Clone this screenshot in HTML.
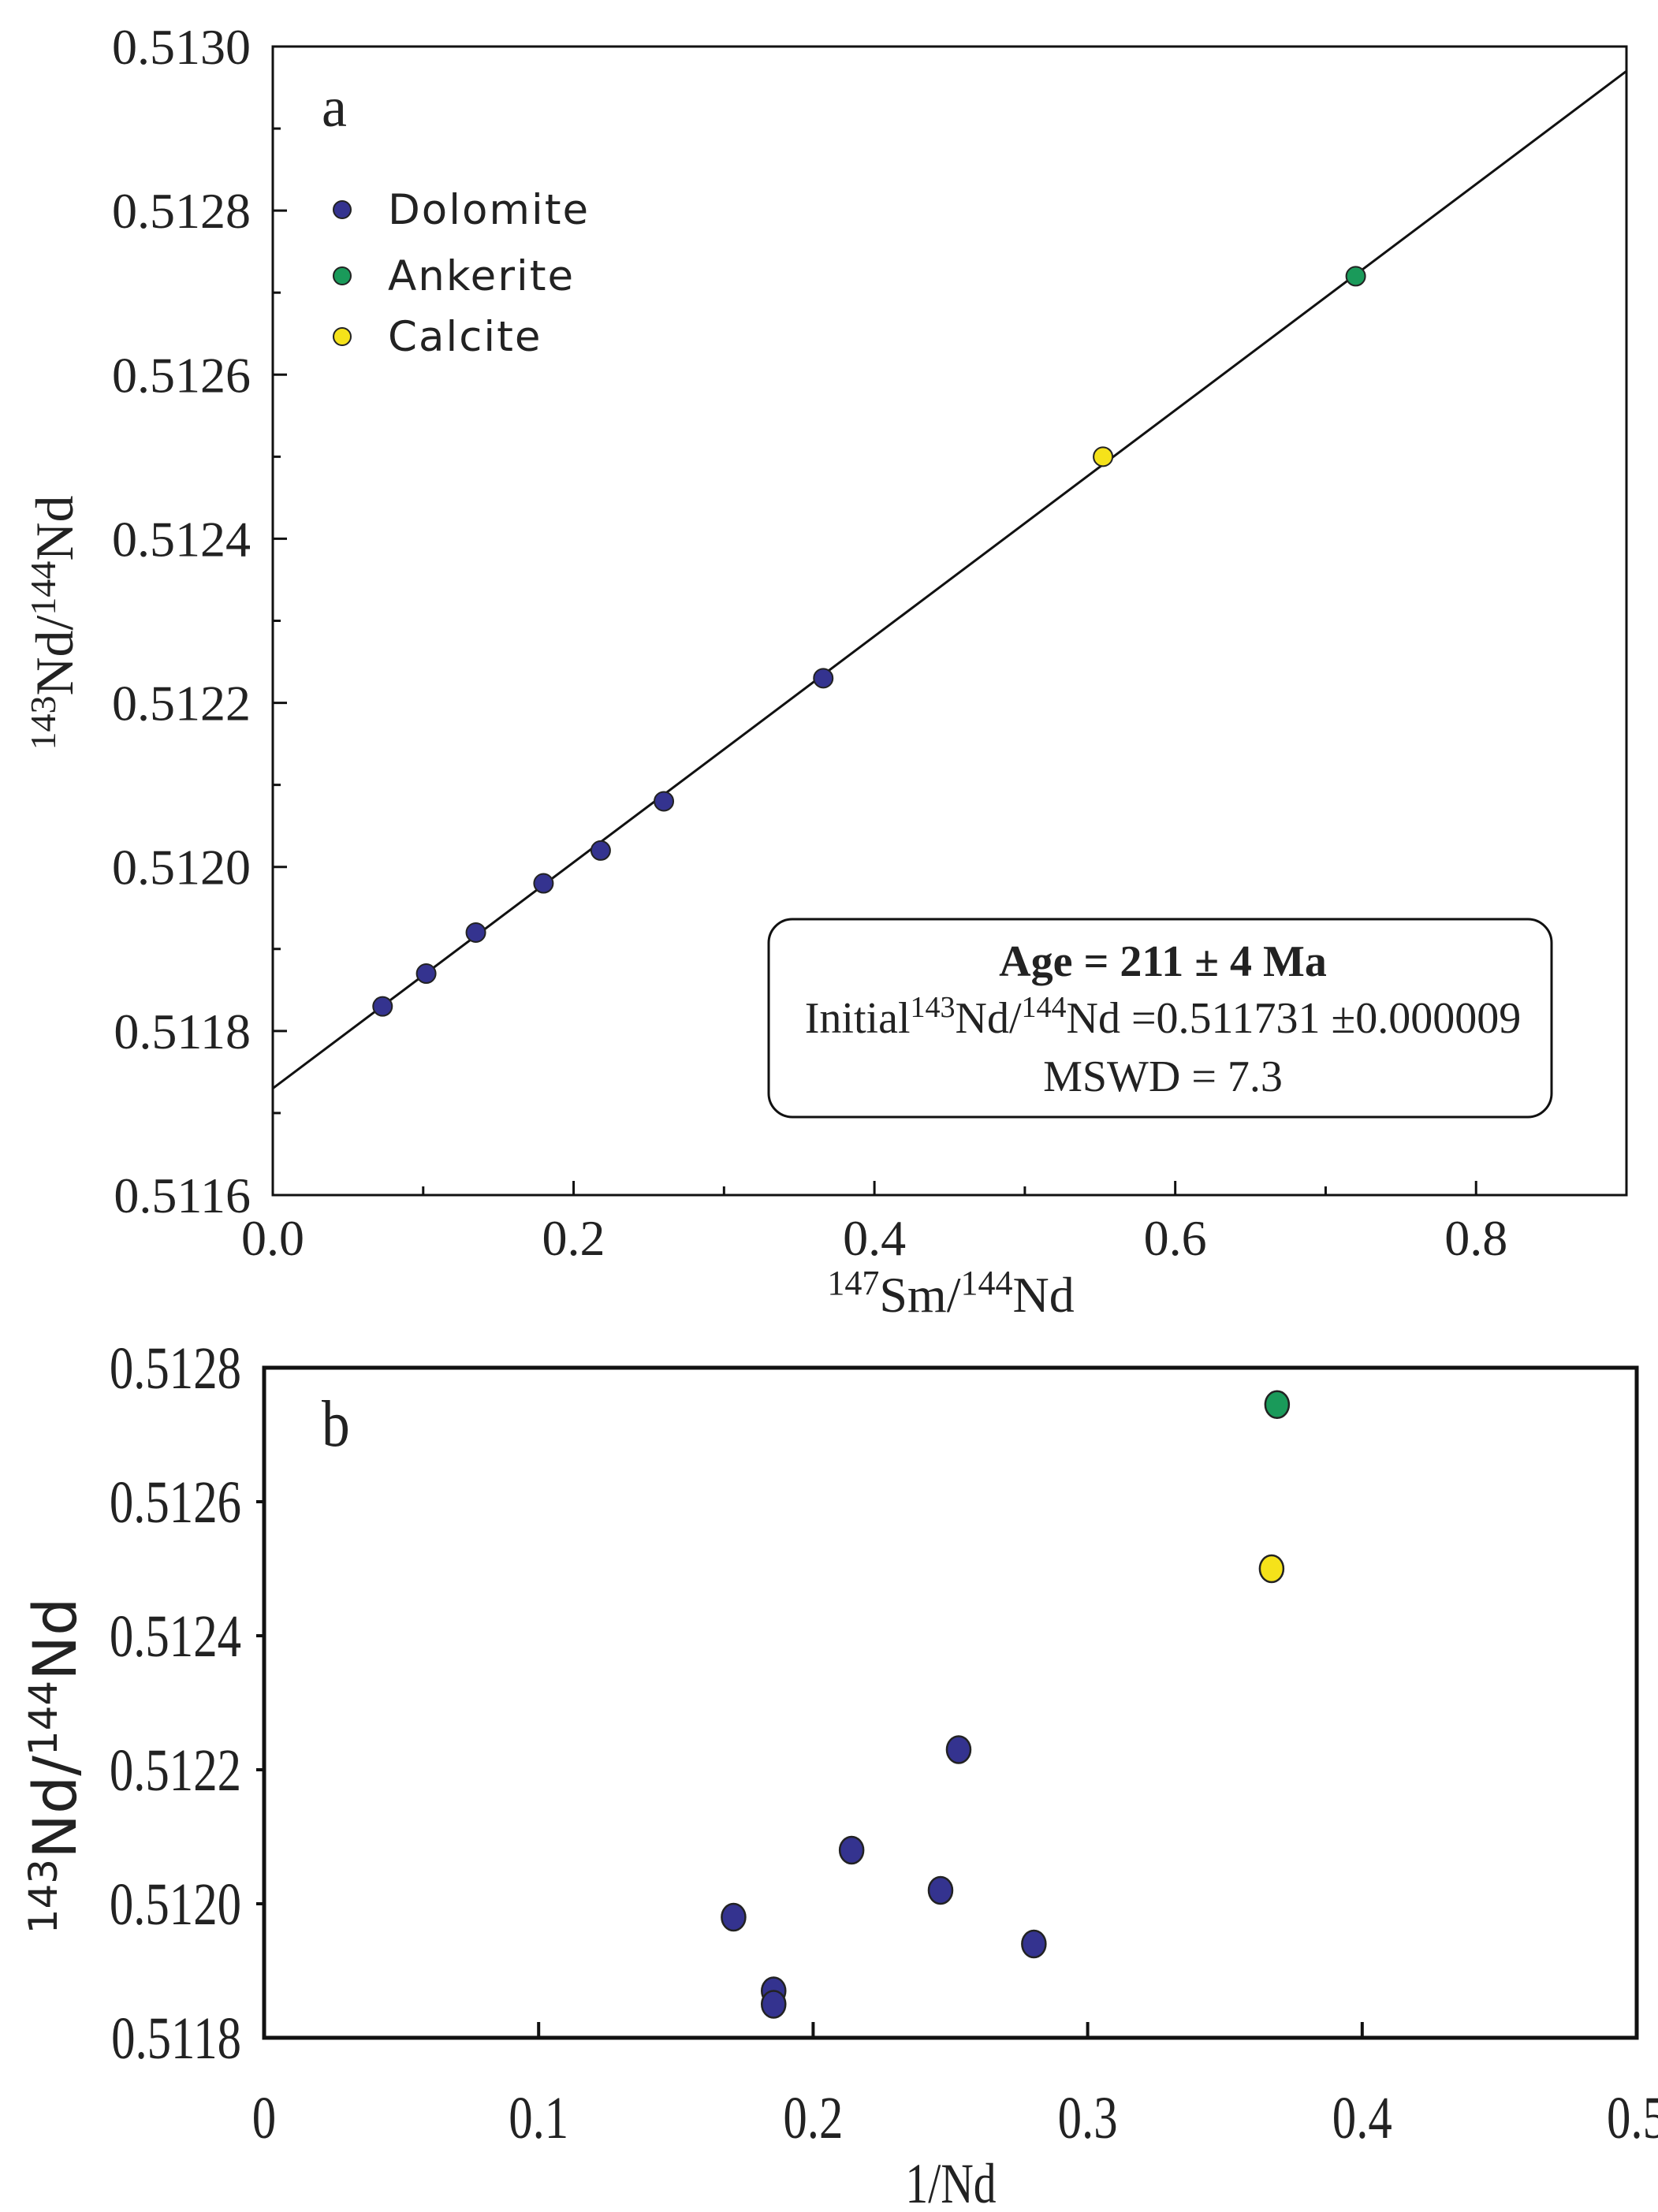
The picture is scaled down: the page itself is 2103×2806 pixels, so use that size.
<!DOCTYPE html>
<html><head><meta charset="utf-8"><style>
html,body{margin:0;padding:0;background:#fff}
svg{display:block}
text{font-family:"Liberation Serif",serif;fill:#222}
.sans{font-family:"DejaVu Sans","Liberation Sans",sans-serif}
</style></head><body>
<svg id="chart" width="2103" height="2806" viewBox="0 0 2103 2806" xmlns="http://www.w3.org/2000/svg">
<g id="pa"></g>
<g id="pb"></g>
</svg>
<script>
// Panel a data
const aX = [0.073,0.102,0.135,0.180,0.218,0.260,0.366,0.552,0.720];
const aY = [0.51183,0.51187,0.51192,0.51198,0.51202,0.51208,0.51223,0.51250,0.51272];
const aType = ['d','d','d','d','d','d','d','c','a'];
const aLine = [0.51173,0.51297]; // y at x=0 and x=0.9
const aXTicks = [0,0.2,0.4,0.6,0.8];
const aXLabels = ['0.0','0.2','0.4','0.6','0.8'];
const aYTicks = [0.5116,0.5118,0.5120,0.5122,0.5124,0.5126,0.5128,0.5130];
const aYLabels = ['0.5116','0.5118','0.5120','0.5122','0.5124','0.5126','0.5128','0.5130'];
// Panel b data
const bX = [0.171,0.1856,0.1856,0.214,0.2464,0.253,0.2804,0.367,0.369];
const bY = [0.51198,0.51187,0.51185,0.51208,0.51202,0.51223,0.51194,0.51250,0.512745];
const bType = ['d','d','d','d','d','d','d','c','a'];
const bXTicks = [0,0.1,0.2,0.3,0.4,0.5];
const bXLabels = ['0','0.1','0.2','0.3','0.4','0.5'];
const bYTicks = [0.5118,0.5120,0.5122,0.5124,0.5126,0.5128];
const bYLabels = ['0.5118','0.5120','0.5122','0.5124','0.5126','0.5128'];

const colors = {d:'#34338f', a:'#1a9a5a', c:'#f5e21a'};
const NS='http://www.w3.org/2000/svg';
function mk(parent, tag, attrs, txt){
  const e=document.createElementNS(NS,tag);
  for(const k in attrs) e.setAttribute(k,attrs[k]);
  if(txt!==undefined) e.textContent=txt;
  parent.appendChild(e); return e;
}
// ---------- Panel a ----------
const pa=document.getElementById('pa');
const A={l:346,r:2063,t:59,b:1516,x0:0,x1:0.9,y0:0.5116,y1:0.5130};
const ax=v=>A.l+(v-A.x0)/(A.x1-A.x0)*(A.r-A.l);
const ay=v=>A.b-(v-A.y0)/(A.y1-A.y0)*(A.b-A.t);
let fr=mk(pa,'rect',{x:A.l,y:A.t,width:A.r-A.l,height:A.b-A.t,fill:'none',stroke:'#111','stroke-width':3});


for(let v=0;v<=0.9001;v+=0.1){
  const t=mk(pa,'line',{x1:ax(v),x2:ax(v),y1:A.b,y2:A.b-(Math.abs(v*5-Math.round(v*5))<1e-6?18:11),stroke:'#111','stroke-width':3});
  
  
}
for(let i=0;i<=14;i++){
  const v=0.5116+i*0.0001;
  const t=mk(pa,'line',{x1:A.l,x2:A.l+(i%2==0?18:10),y1:ay(v),y2:ay(v),stroke:'#111','stroke-width':3});
  
  
}
aXTicks.forEach((v,i)=>{
  const t=mk(pa,'text',{x:ax(v),y:1592,'font-size':64,'text-anchor':'middle'},aXLabels[i]);
  
  
});
aYTicks.forEach((v,i)=>{
  const t=mk(pa,'text',{x:318,y:ay(v)+22,'font-size':64,'text-anchor':'end'},aYLabels[i]);
  
  
});
let ln=mk(pa,'line',{x1:ax(0),y1:ay(aLine[0]),x2:ax(0.9),y2:ay(aLine[1]),stroke:'#111','stroke-width':3});


aX.forEach((v,i)=>{
  const c=mk(pa,'circle',{cx:ax(v),cy:ay(aY[i]),r:12,fill:colors[aType[i]],stroke:'#222','stroke-width':2});
  
  
});
let lbl=mk(pa,'text',{x:408,y:160,'font-size':72},'a');


[['Dolomite','d',266],['Ankerite','a',350],['Calcite','c',427]].forEach(([n,k,y])=>{
  const c=mk(pa,'circle',{cx:434,cy:y,r:11,fill:colors[k],stroke:'#222','stroke-width':2});
  
  
  const t=mk(pa,'text',{x:492,y:y+18,'font-size':53,'class':'sans','letter-spacing':'2'},n);
  
  
});
let bx=mk(pa,'rect',{x:975,y:1166,width:993,height:251,rx:30,fill:'#fff',stroke:'#111','stroke-width':3});


let t1=mk(pa,'text',{x:1475,y:1238,'font-size':56,'font-weight':'bold','text-anchor':'middle'},'Age = 211  ± 4 Ma');


let t2=mk(pa,'text',{x:1475,y:1310,'font-size':56,'text-anchor':'middle'});


t2.innerHTML='Initial<tspan font-size="38" dy="-20">143</tspan><tspan dy="20">Nd/</tspan><tspan font-size="38" dy="-20">144</tspan><tspan dy="20">Nd =0.511731  ±0.000009</tspan>';
let t3=mk(pa,'text',{x:1475,y:1384,'font-size':56,'text-anchor':'middle'},'MSWD = 7.3');


let xt=mk(pa,'text',{x:1206,y:1664,'font-size':64,'text-anchor':'middle'});


xt.innerHTML='<tspan font-size="44" dy="-22">147</tspan><tspan dy="22">Sm/</tspan><tspan font-size="44" dy="-22">144</tspan><tspan dy="22">Nd</tspan>';
let yt=mk(pa,'text',{x:0,y:0,'font-size':68,'text-anchor':'middle',transform:'translate(92,790) rotate(-90)'});


yt.innerHTML='<tspan font-size="46" dy="-22">143</tspan><tspan dy="22">Nd/</tspan><tspan font-size="46" dy="-22">144</tspan><tspan dy="22">Nd</tspan>';

// ---------- Panel b ----------
const pb=document.getElementById('pb');
const B={l:335,r:2076,t:1735,b:2585,x0:0,x1:0.5,y0:0.5118,y1:0.5128};
const bxf=v=>B.l+(v-B.x0)/(B.x1-B.x0)*(B.r-B.l);
const byf=v=>B.b-(v-B.y0)/(B.y1-B.y0)*(B.b-B.t);
let fb=mk(pb,'rect',{x:B.l,y:B.t,width:B.r-B.l,height:B.b-B.t,fill:'none',stroke:'#111','stroke-width':5});


bXTicks.forEach((v,i)=>{
  if(i>0&&i<bXTicks.length-1){
    const t=mk(pb,'line',{x1:bxf(v),x2:bxf(v),y1:B.b,y2:B.b-20,stroke:'#111','stroke-width':4});
    
    
  }
  const l=mk(pb,'text',{x:0,y:0,'font-size':76,'text-anchor':'middle',transform:`translate(${bxf(v)},2712) scale(0.8,1)`},bXLabels[i]);
  
  
});
bYTicks.forEach((v,i)=>{
  if(i>0&&i<bYTicks.length-1){
    const t=mk(pb,'line',{x1:B.l-10,x2:B.l,y1:byf(v),y2:byf(v),stroke:'#111','stroke-width':4});
    
    
  }
  const l=mk(pb,'text',{x:0,y:0,'font-size':76,'text-anchor':'end',transform:`translate(306,${byf(v)+26}) scale(0.8,1)`},bYLabels[i]);
  
  
});
bX.forEach((v,i)=>{
  const c=mk(pb,'ellipse',{cx:bxf(v),cy:byf(bY[i]),rx:15,ry:17,fill:colors[bType[i]],stroke:'#222','stroke-width':2.5});
  
  
});
let lb=mk(pb,'text',{x:0,y:0,'font-size':84,transform:'translate(408,1834) scale(0.85,1)'},'b');


let xb=mk(pb,'text',{x:0,y:0,'font-size':72,'text-anchor':'middle',transform:'translate(1206,2794) scale(0.8,1)'},'1/Nd');


let yb=mk(pb,'text',{x:0,y:0,'font-size':76,'text-anchor':'middle',transform:'translate(96,2240) rotate(-90)','class':'sans'});


yb.innerHTML='<tspan font-size="50" dy="-24">143</tspan><tspan dy="24">Nd/</tspan><tspan font-size="50" dy="-24">144</tspan><tspan dy="24">Nd</tspan>';
</script>
</body></html>
